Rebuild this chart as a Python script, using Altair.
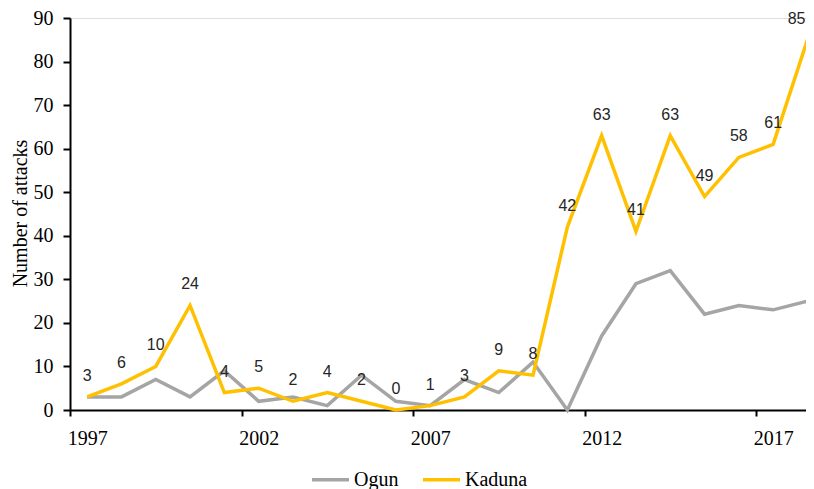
import altair as alt
import pandas as pd

years = list(range(1997, 2019))
ogun = [3, 3, 7, 3, 9, 2, 3, 1, 8, 2, 1, 7, 4, 11, 0, 17, 29, 32, 22, 24, 23, 25]
kaduna = [3, 6, 10, 24, 4, 5, 2, 4, 2, 0, 1, 3, 9, 8, 42, 63, 41, 63, 49, 58, 61, 85]
series = ["Ogun", "Kaduna"]
colors = ["#A5A5A5", "#FFC000"]
x_labels = ["1997", "2002", "2007", "2012", "2017"]
y_ticks = [0, 10, 20, 30, 40, 50, 60, 70, 80, 90]

df_o = pd.DataFrame({"year": years, "value": ogun, "series": "Ogun"})
df_k = pd.DataFrame({"year": years, "value": kaduna, "series": "Kaduna"})

SERIF = "'Liberation Serif', 'Times New Roman', 'DejaVu Serif', serif"
CAT = 34.3  # pixel width of one category
PLOT_W = 736
PLOT_H = 392
LAST = years[-1]

x_enc = alt.X(
    "year:Q",
    scale=alt.Scale(domain=[1996.5, 1996.5 + PLOT_W / CAT], nice=False, zero=False),
    axis=alt.Axis(
        values=[int(v) for v in x_labels],
        labelExpr="toString(datum.value)",
        title=None,
        tickOffset=-CAT / 2,
        labelOffset=CAT / 2,
        tickSize=6,
        tickWidth=2,
        tickColor="black",
        domainColor="black",
        domainWidth=2,
        labelFont=SERIF,
        labelFontSize=20,
        labelColor="black",
        labelPadding=12,
        grid=False,
        labelFlush=False,
        labelOverlap=False,
    ),
)
y_enc = alt.Y(
    "value:Q",
    scale=alt.Scale(domain=[0, 90], nice=False),
    axis=alt.Axis(
        values=y_ticks,
        title="Number of attacks",
        titleFont=SERIF,
        titleFontSize=20,
        titleFontWeight="normal",
        titleColor="black",
        titleBaseline="alphabetic",
        titleX=-44,
        titleY=PLOT_H / 2 - 1,
        tickSize=7,
        tickWidth=2,
        tickColor="black",
        domainColor="black",
        domainWidth=2,
        labelFont=SERIF,
        labelFontSize=20,
        labelColor="black",
        labelPadding=10,
        grid=False,
    ),
)
color_enc = alt.Color(
    "series:N",
    scale=alt.Scale(domain=series, range=colors),
    legend=alt.Legend(
        title=None,
        orient="none",
        legendX=240,
        legendY=441,
        direction="horizontal",
        symbolType="stroke",
        symbolSize=1369,
        symbolStrokeWidth=3.5,
        labelFont=SERIF,
        labelFontSize=20,
        labelColor="black",
        labelOffset=3,
        columnPadding=17,
        padding=0,
    ),
)

ogun_line = alt.Chart(df_o).mark_line(strokeWidth=3.5).encode(x=x_enc, y=y_enc, color=color_enc)
kaduna_line = alt.Chart(df_k).mark_line(strokeWidth=3.5).encode(x=x_enc, y=y_enc, color=color_enc)
labels = alt.Chart(df_k).transform_filter(alt.datum.year < LAST).mark_text(
    dy=-21, baseline="middle", font="Liberation Sans", fontSize=16, color="#262626"
).encode(x="year:Q", y="value:Q", text="value:Q")
last_label = alt.Chart(df_k).transform_filter(alt.datum.year == LAST).mark_text(
    dy=-21, dx=-2, align="right", baseline="middle", font="Liberation Sans", fontSize=16, color="#262626"
).encode(x="year:Q", y="value:Q", text="value:Q")

chart = (
    alt.layer(ogun_line, kaduna_line, labels, last_label)
    .properties(
        width=PLOT_W,
        height=PLOT_H,
        autosize=alt.AutoSizeParams(type="none"),
        padding={"left": 62, "top": 10, "right": 0, "bottom": 79},
    )
    .configure_view(stroke=None)
    .configure(background="white")
)

chart.save("out.html", embed_options={"renderer": "svg", "actions": False})
